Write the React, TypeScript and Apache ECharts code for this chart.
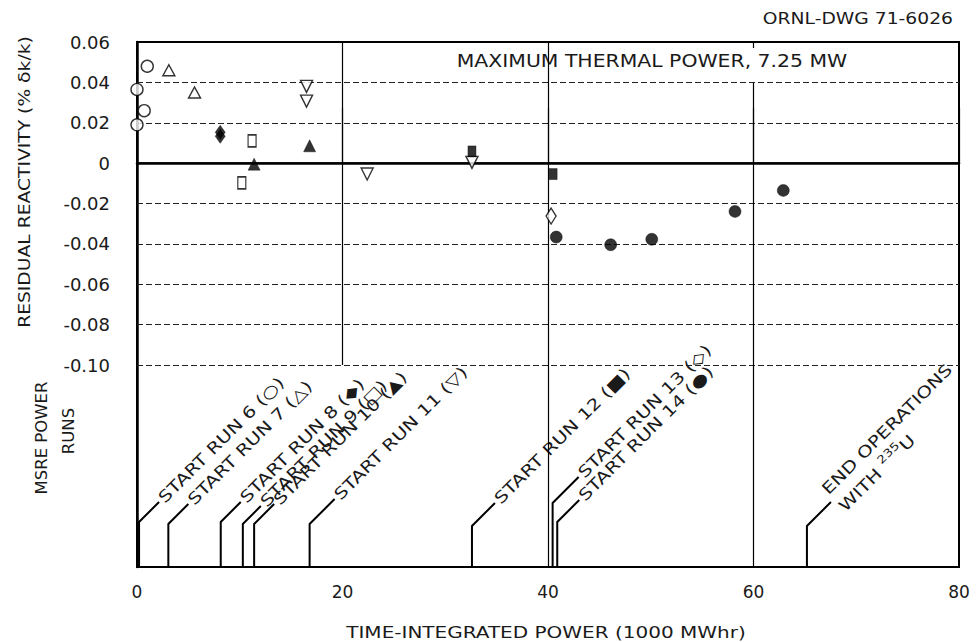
import React, { useEffect, useRef } from "react";
import * as echarts from "echarts";

// ---------- data ----------
const xTickValues = [0, 20, 40, 60, 80];
const yMin = -0.2;
const yMax = 0.06;
const gridLinesY = [0.04, 0.02, 0, -0.02, -0.04, -0.06, -0.08, -0.1];

const run6Circle = [[1.0, 0.048], [0, 0.0365], [0.7, 0.026], [0, 0.019]];
const run7Triangle = [[3.1, 0.046], [5.6, 0.035]];
const run8DiamondFilled = [[8.1, 0.0153], [8.1, 0.0133]];
const run9Square = [[11.2, 0.011], [10.2, -0.0098]];
const run10TriangleFilled = [[11.4, -0.0005], [16.8, 0.0086]];
const run11TriangleDown = [[16.5, 0.038], [16.5, 0.0307], [22.4, -0.0054], [32.6, 0.0004]];
const run12SquareFilled = [[32.6, 0.0058], [40.5, -0.0054]];
const run13DiamondOpen = [[40.3, -0.0262]];
const run14CircleFilled = [[40.8, -0.0366], [46.1, -0.0404], [50.1, -0.0377], [58.2, -0.0239], [62.9, -0.0135]];

const runStartX = [0.2, 3.05, 8.15, 10.3, 11.4, 16.8, 32.6, 40.45, 40.9, 65.2];
const runStartLabels = [
  "START RUN 6 (○)",
  "START RUN 7 (△)",
  "START RUN 8 (◆)",
  "START RUN 9 (□)",
  "START RUN 10 (▲)",
  "START RUN 11 (▽)",
  "START RUN 12 (■)",
  "START RUN 13 (◇)",
  "START RUN 14 (●)",
  "{a|END OPERATIONS}\n{a|WITH }{sup|235}{a|U}",
];

// ---------- styles ----------
const FONT = "DejaVu Sans";
const INK = "#1a1a1a";
const leaderRise = [44, 42, 44, 42, 42, 42, 40, 63, 44, 40];
const leaderDiag = [20, 20, 20, 18, 20, 25, 23, 26, 22, 24];

const open = { color: "#fff", borderColor: "#000", borderWidth: 1.4 };
const filled = { color: "#000", borderColor: "#000", borderWidth: 0.5 };

export default function App() {
  const ref = useRef<HTMLDivElement>(null);
  useEffect(() => {
    if (!ref.current) return;
    const chart = echarts.init(ref.current, undefined, { renderer: "svg" });

    const scatter = (name: string, data: number[][], symbol: string, size: any, style: any, rotate = 0) => ({
      name,
      type: "scatter",
      data,
      symbol,
      symbolSize: size,
      symbolRotate: rotate,
      itemStyle: style,
      z: 5,
      silent: true,
    });

    const vLines = [
      [{ coord: [xTickValues[1], yMax] }, { coord: [xTickValues[1], -0.1] }],
      [{ coord: [xTickValues[2], yMax] }, { coord: [xTickValues[2], yMin] }],
      [{ coord: [xTickValues[3], 0.04] }, { coord: [xTickValues[3], yMin] }],
      [{ coord: [xTickValues[3], yMax] }, { coord: [xTickValues[3], 0.057] }],
    ];

    const option: any = {
      animation: false,
      backgroundColor: "#fff",
      grid: { left: 137, right: 18, top: 42, bottom: 75, show: true, borderColor: "#000", borderWidth: 2, backgroundColor: "transparent" },
      xAxis: {
        type: "value",
        min: 0,
        max: 80,
        interval: 20,
        axisLine: { show: true, lineStyle: { color: "#000", width: 2.5 } },
        axisTick: { show: true, inside: true, length: 55, lineStyle: { color: "#000", width: 1.2 } },
        splitLine: { show: false },
        axisLabel: { fontFamily: FONT, fontSize: 17, color: INK, margin: 16 },
      },
      yAxis: {
        type: "value",
        min: yMin,
        max: yMax,
        interval: 0.02,
        axisLine: { show: true, lineStyle: { color: "#000", width: 2.5 } },
        axisTick: { show: false },
        splitLine: { show: false },
        axisLabel: {
          fontFamily: FONT,
          fontSize: 18,
          color: INK,
          margin: 27,
          formatter: (v: number) => (v < -0.105 ? "" : Math.abs(v) < 1e-9 ? "0" : v.toFixed(2)),
        },
      },
      graphic: [
        { type: "text", x: 953, y: 18, scaleX: 1.17, style: { text: "ORNL-DWG 71-6026", font: `16px '${FONT}'`, fill: INK, align: "right", verticalAlign: "middle" } },
        { type: "text", x: 652, y: 61, scaleX: 1.2, style: { text: "MAXIMUM THERMAL POWER, 7.25 MW", font: `17px '${FONT}'`, fill: INK, align: "center", verticalAlign: "middle" } },
        { type: "text", x: 24, y: 182, rotation: Math.PI / 2, scaleX: 1.17, style: { text: "RESIDUAL REACTIVITY (% δk/k)", font: `16px '${FONT}'`, fill: INK, align: "center", verticalAlign: "middle" } },
        { type: "text", x: 42, y: 438, rotation: Math.PI / 2, scaleX: 1.1, style: { text: "MSRE POWER", font: `15px '${FONT}'`, fill: INK, align: "center", verticalAlign: "middle" } },
        { type: "text", x: 69, y: 431, rotation: Math.PI / 2, scaleX: 1.1, style: { text: "RUNS", font: `15px '${FONT}'`, fill: INK, align: "center", verticalAlign: "middle" } },
        { type: "text", x: 546, y: 632, scaleX: 1.25, style: { text: "TIME-INTEGRATED POWER (1000 MWhr)", font: `16px '${FONT}'`, fill: INK, align: "center", verticalAlign: "middle" } },
      ],
      series: [
        {
          name: "grid",
          type: "line",
          data: [],
          z: 1,
          silent: true,
          markLine: {
            silent: true,
            symbol: ["none", "none"],
            label: { show: false },
            animation: false,
            data: [
              ...gridLinesY.map((v) => ({
                yAxis: v,
                lineStyle: Math.abs(v) < 1e-9
                  ? { color: "#000", width: 1.6, type: "solid" }
                  : { color: "#222", width: 1, type: [6, 3] },
              })),
              ...vLines.map((pair) => [
                { ...pair[0], lineStyle: { color: "#000", width: 1.2, type: "solid" } },
                pair[1],
              ]),
            ],
          },
        },
        scatter("Run 6", run6Circle, "circle", 12, open),
        scatter("Run 7", run7Triangle, "triangle", [12, 11], open),
        scatter("Run 8", run8DiamondFilled, "diamond", [10, 14], filled),
        scatter("Run 9", run9Square, "rect", [8, 12], open),
        scatter("Run 10", run10TriangleFilled, "triangle", [12, 12], filled),
        scatter("Run 11", run11TriangleDown, "triangle", [12, 12], open, 180),
        scatter("Run 12", run12SquareFilled, "rect", [8, 11], filled),
        scatter("Run 13", run13DiamondOpen, "diamond", [10, 16], open),
        scatter("Run 14", run14CircleFilled, "circle", 12, filled),
        {
          name: "run starts",
          type: "custom",
          coordinateSystem: "cartesian2d",
          data: runStartX.map((x) => [x, yMin]),
          z: 4,
          silent: true,
          renderItem: (params: any, api: any) => {
            const i = params.dataIndex;
            const p = api.coord([api.value(0), api.value(1)]);
            const bx = p[0];
            const by = p[1] - 1;
            const rise = leaderRise[i];
            const d = leaderDiag[i];
            const ex = bx + d;
            const ey = by - rise - d;
            const isRich = runStartLabels[i].indexOf("{") === 0;
            return {
              type: "group",
              children: [
                {
                  type: "polyline",
                  shape: { points: [[bx, by], [bx, by - rise], [ex, ey]] },
                  style: { stroke: "#000", lineWidth: 2, fill: "none" },
                },
                {
                  type: "text",
                  x: ex + 2,
                  y: ey - 2,
                  rotation: Math.PI / 4,
                  scaleX: 1.25,
                  style: {
                    text: runStartLabels[i],
                    fontSize: 16,
                    fontFamily: FONT,
                    fill: INK,
                    align: "left",
                    verticalAlign: "middle",
                    rich: isRich
                      ? {
                          a: { fontSize: 16, fontFamily: FONT, fill: INK, lineHeight: 24 },
                          sup: { fontSize: 11, fontFamily: FONT, fill: INK, lineHeight: 24, verticalAlign: "top" },
                        }
                      : undefined,
                  },
                },
              ],
            };
          },
        },
      ],
    };
    chart.setOption(option);
    return () => chart.dispose();
  }, []);
  return <div ref={ref} style={{ position: "absolute", left: 0, top: 0, width: 977, height: 642 }} />;
}
